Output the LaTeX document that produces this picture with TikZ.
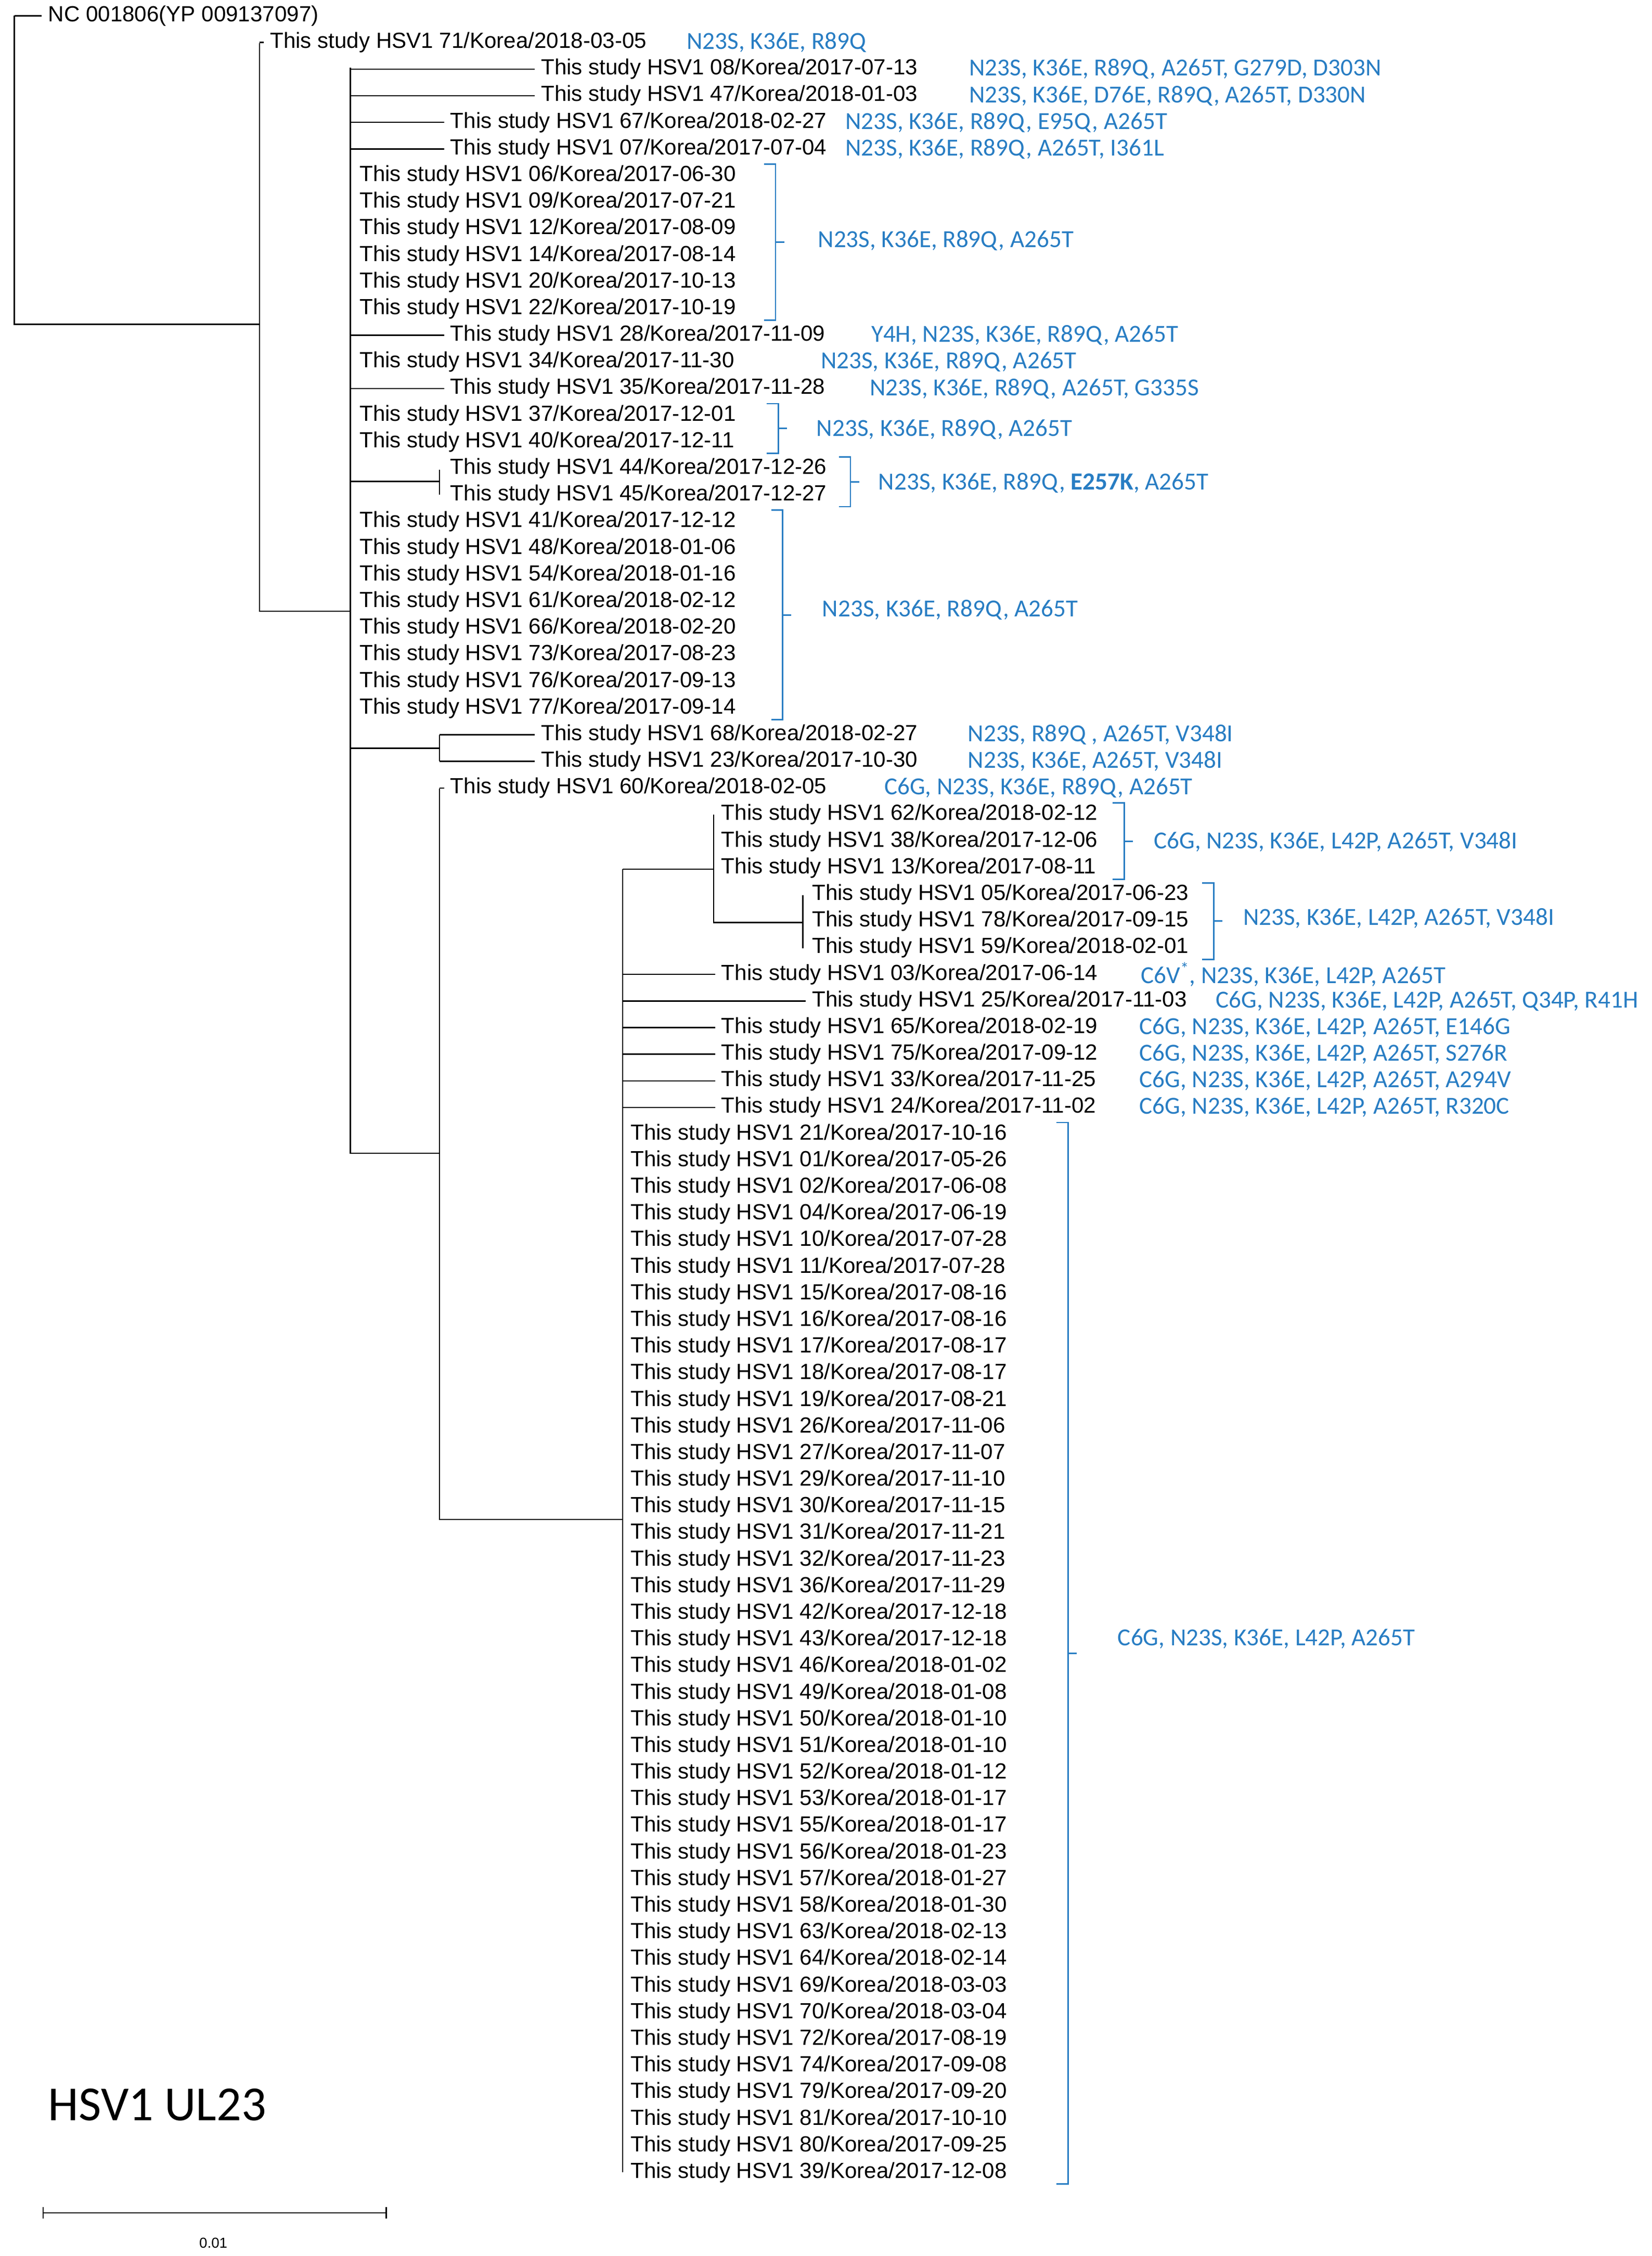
\documentclass[tikz,border=0pt]{standalone}
\usepackage{fontspec}
\setmainfont{Liberation Sans}
\newfontfamily\calfont{Carlito}
\definecolor{annblue}{RGB}{40,125,195}
\begin{document}
\begin{tikzpicture}[x=1pt,y=-1pt,line width=0.9pt,
  lf/.style={anchor=west,inner sep=0pt,font=\fontsize{15.2}{17}\selectfont},
  ann/.style={anchor=west,inner sep=0pt,text=annblue,font=\calfont\fontsize{17}{19}\selectfont},
  br/.style={draw=annblue,line width=1pt}]
\useasboundingbox (0,0) rectangle (1146,1565);
% leaf helper: index, parent x, text x, label
\newcommand\leaf[4]{%
  \pgfmathsetmacro\yy{11+18.47*#1}%
  \ifdim #2pt<#3pt \draw (#2,\yy) -- ({#3-4},\yy);\fi
  \node[lf] (l#1) at (#3,\yy) {#4};}
\newcommand\ann[3]{\pgfmathsetmacro\yy{11+18.47*#1}\node[ann] (a#1) at (#2,\yy) {#3};}
\newcommand\brk[4]{% x, first idx, last idx, name
  \pgfmathsetmacro\ya{11+18.47*#2-8}\pgfmathsetmacro\yb{11+18.47*#3+8}\pgfmathsetmacro\ym{(\ya+\yb)/2}
  \draw[br] (#1,\ya) -- ({#1+8},\ya) -- ({#1+8},\yb) -- (#1,\yb);
  \draw[br] ({#1+8},\ym) -- ({#1+14},\ym) coordinate (#4);}
% tree skeleton
\draw (10,11) -- (10,225) -- (180,225);
\draw (180,30) -- (180,424) -- (243,424);
\draw (243,47) -- (243,800) -- (305,800);
\draw (243,334) -- (305,334) (305,326) -- (305,343);
\draw (243,519) -- (305,519) (305,510) -- (305,528);
\draw (305,547) -- (305,1054) -- (432,1054);
\draw (432,603) -- (432,1507);
\draw (432,603) -- (495,603) (495,565) -- (495,640) -- (557,640) (557,621) -- (557,658);
% leaves
\leaf{0}{10}{33}{NC 001806(YP 009137097)}
\leaf{1}{180}{187}{This study HSV1 71/Korea/2018-03-05}
\leaf{2}{243}{375}{This study HSV1 08/Korea/2017-07-13}
\leaf{3}{243}{375}{This study HSV1 47/Korea/2018-01-03}
\leaf{4}{243}{312}{This study HSV1 67/Korea/2018-02-27}
\leaf{5}{243}{312}{This study HSV1 07/Korea/2017-07-04}
\leaf{6}{249}{249}{This study HSV1 06/Korea/2017-06-30}
\leaf{7}{249}{249}{This study HSV1 09/Korea/2017-07-21}
\leaf{8}{249}{249}{This study HSV1 12/Korea/2017-08-09}
\leaf{9}{249}{249}{This study HSV1 14/Korea/2017-08-14}
\leaf{10}{249}{249}{This study HSV1 20/Korea/2017-10-13}
\leaf{11}{249}{249}{This study HSV1 22/Korea/2017-10-19}
\leaf{12}{243}{312}{This study HSV1 28/Korea/2017-11-09}
\leaf{13}{249}{249}{This study HSV1 34/Korea/2017-11-30}
\leaf{14}{243}{312}{This study HSV1 35/Korea/2017-11-28}
\leaf{15}{249}{249}{This study HSV1 37/Korea/2017-12-01}
\leaf{16}{249}{249}{This study HSV1 40/Korea/2017-12-11}
\leaf{17}{312}{312}{This study HSV1 44/Korea/2017-12-26}
\leaf{18}{312}{312}{This study HSV1 45/Korea/2017-12-27}
\leaf{19}{249}{249}{This study HSV1 41/Korea/2017-12-12}
\leaf{20}{249}{249}{This study HSV1 48/Korea/2018-01-06}
\leaf{21}{249}{249}{This study HSV1 54/Korea/2018-01-16}
\leaf{22}{249}{249}{This study HSV1 61/Korea/2018-02-12}
\leaf{23}{249}{249}{This study HSV1 66/Korea/2018-02-20}
\leaf{24}{249}{249}{This study HSV1 73/Korea/2017-08-23}
\leaf{25}{249}{249}{This study HSV1 76/Korea/2017-09-13}
\leaf{26}{249}{249}{This study HSV1 77/Korea/2017-09-14}
\leaf{27}{305}{375}{This study HSV1 68/Korea/2018-02-27}
\leaf{28}{305}{375}{This study HSV1 23/Korea/2017-10-30}
\leaf{29}{305}{312}{This study HSV1 60/Korea/2018-02-05}
\leaf{30}{500}{500}{This study HSV1 62/Korea/2018-02-12}
\leaf{31}{500}{500}{This study HSV1 38/Korea/2017-12-06}
\leaf{32}{500}{500}{This study HSV1 13/Korea/2017-08-11}
\leaf{33}{563}{563}{This study HSV1 05/Korea/2017-06-23}
\leaf{34}{563}{563}{This study HSV1 78/Korea/2017-09-15}
\leaf{35}{563}{563}{This study HSV1 59/Korea/2018-02-01}
\leaf{36}{432}{500}{This study HSV1 03/Korea/2017-06-14}
\leaf{37}{432}{563}{This study HSV1 25/Korea/2017-11-03}
\leaf{38}{432}{500}{This study HSV1 65/Korea/2018-02-19}
\leaf{39}{432}{500}{This study HSV1 75/Korea/2017-09-12}
\leaf{40}{432}{500}{This study HSV1 33/Korea/2017-11-25}
\leaf{41}{432}{500}{This study HSV1 24/Korea/2017-11-02}
\foreach \n/\d [count=\i from 42] in {21/2017-10-16,01/2017-05-26,02/2017-06-08,04/2017-06-19,10/2017-07-28,11/2017-07-28,15/2017-08-16,16/2017-08-16,17/2017-08-17,18/2017-08-17,19/2017-08-21,26/2017-11-06,27/2017-11-07,29/2017-11-10,30/2017-11-15,31/2017-11-21,32/2017-11-23,36/2017-11-29,42/2017-12-18,43/2017-12-18,46/2018-01-02,49/2018-01-08,50/2018-01-10,51/2018-01-10,52/2018-01-12,53/2018-01-17,55/2018-01-17,56/2018-01-23,57/2018-01-27,58/2018-01-30,63/2018-02-13,64/2018-02-14,69/2018-03-03,70/2018-03-04,72/2017-08-19,74/2017-09-08,79/2017-09-20,81/2017-10-10,80/2017-09-25,39/2017-12-08}
  {\leaf{\i}{437}{437}{This study HSV1 \n/Korea/\d}}
% annotations
\ann{1}{476}{N23S, K36E, R89Q}
\ann{2}{672}{N23S, K36E, R89Q, A265T, G279D, D303N}
\ann{3}{672}{N23S, K36E, D76E, R89Q, A265T, D330N}
\ann{4}{586}{N23S, K36E, R89Q, E95Q, A265T}
\ann{5}{586}{N23S, K36E, R89Q, A265T, I361L}
\ann{12}{604}{Y4H, N23S, K36E, R89Q, A265T}
\ann{13}{569}{N23S, K36E, R89Q, A265T}
\ann{14}{603}{N23S, K36E, R89Q, A265T, G335S}
\ann{27}{671}{N23S, R89Q , A265T, V348I}
\ann{28}{671}{N23S, K36E, A265T, V348I}
\ann{29}{613}{C6G, N23S, K36E, R89Q, A265T}
\ann{36}{791}{C6V\textsuperscript{*}, N23S, K36E, L42P, A265T}
\ann{37}{843}{C6G, N23S, K36E, L42P, A265T, Q34P, R41H}
\ann{38}{790}{C6G, N23S, K36E, L42P, A265T, E146G}
\ann{39}{790}{C6G, N23S, K36E, L42P, A265T, S276R}
\ann{40}{790}{C6G, N23S, K36E, L42P, A265T, A294V}
\ann{41}{790}{C6G, N23S, K36E, L42P, A265T, R320C}
% brackets
\brk{530}{6}{11}{b1}\node[ann] (ab1) at (567,167) {N23S, K36E, R89Q, A265T};
\brk{532}{15}{16}{b2}\node[ann] (ab2) at (566,298) {N23S, K36E, R89Q, A265T};
\brk{582}{17}{18}{b3}\node[ann] (ab3) at (609,335) {N23S, K36E, R89Q, \textbf{E257K}, A265T};
\brk{535}{19}{26}{b4}\node[ann] (ab4) at (570,423) {N23S, K36E, R89Q, A265T};
\brk{772}{30}{32}{b5}\node[ann] (ab5) at (800,584) {C6G, N23S, K36E, L42P, A265T, V348I};
\brk{834}{33}{35}{b6}\node[ann] (ab6) at (862,637) {N23S, K36E, L42P, A265T, V348I};
\brk{733}{42}{81}{b7}\node[ann] (ab7) at (775,1137) {C6G, N23S, K36E, L42P, A265T};
% title and scale
\node[anchor=west,inner sep=0pt,font=\calfont\fontsize{34}{38}\selectfont] (title) at (33,1460) {HSV1 UL23};
\draw (30,1535) -- (268,1535) (30,1531) -- (30,1539) (268,1531) -- (268,1539);
\node[font=\fontsize{10}{11}\selectfont] (sc) at (148,1556) {0.01};
\end{tikzpicture}
\end{document}
